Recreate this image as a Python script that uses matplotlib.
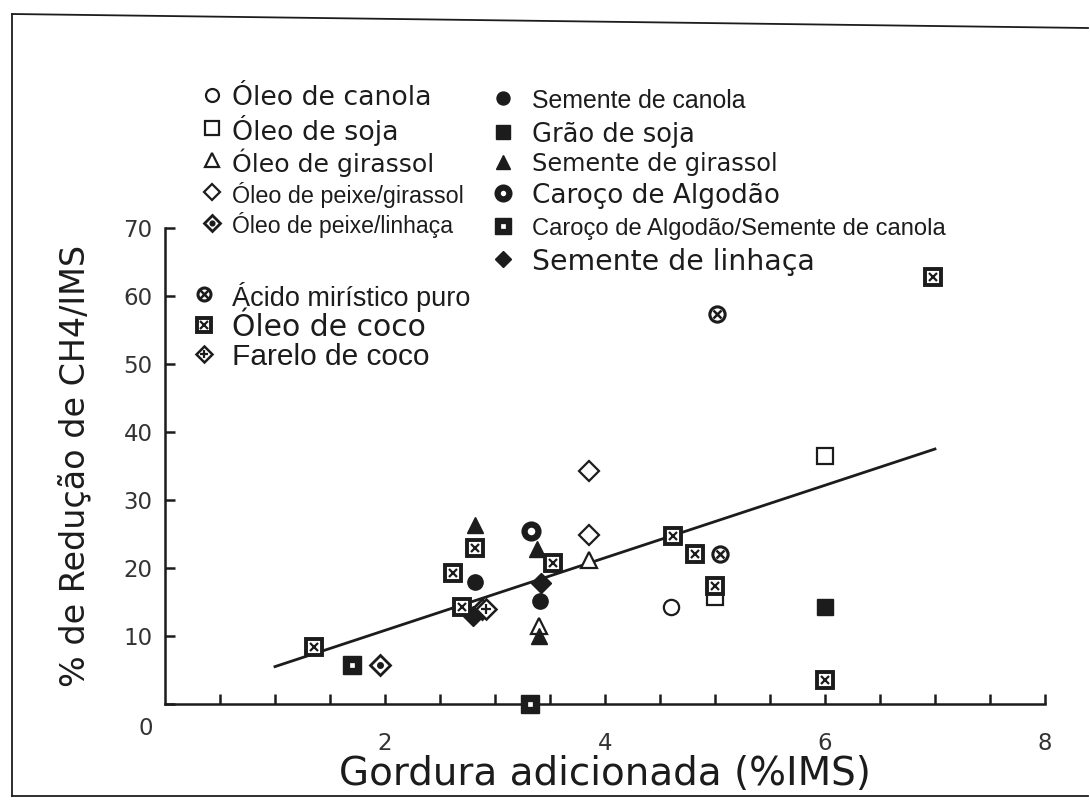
import matplotlib
matplotlib.use("Agg")
import matplotlib.pyplot as plt
from matplotlib.lines import Line2D
import matplotlib.transforms as mtransforms

plt.rcParams['font.family'] = ['Liberation Sans', 'DejaVu Sans']

INK = '#1c1c1c'
W, H = 1090, 802

# values
x_oleo_canola = [4.6]
y_oleo_canola = [14.2]
x_oleo_soja = [6.0, 5.0]
y_oleo_soja = [36.5, 15.8]
x_oleo_girassol = [3.85, 3.4]
y_oleo_girassol = [21.2, 11.5]
x_peixe_girassol = [3.85, 3.85]
y_peixe_girassol = [34.2, 24.8]
x_peixe_linhaca = [1.95, 2.88]
y_peixe_linhaca = [5.8, 14.0]
x_semente_canola = [2.82, 3.41]
y_semente_canola = [18.0, 15.2]
x_grao_soja = [6.0]
y_grao_soja = [14.2]
x_semente_girassol = [2.82, 3.38, 3.4]
y_semente_girassol = [26.3, 22.8, 10.0]
x_caroco = [3.33]
y_caroco = [25.4]
x_caroco_canola = [1.7, 3.32]
y_caroco_canola = [5.8, 0.0]
x_semente_linhaca = [2.8, 3.42]
y_semente_linhaca = [13.0, 17.8]
x_acido = [5.02, 5.05]
y_acido = [57.4, 22.0]
x_oleo_coco = [1.35, 2.62, 2.82, 2.7, 3.53, 4.62, 4.82, 5.0, 6.0, 6.98]
y_oleo_coco = [8.4, 19.2, 23.0, 14.2, 20.7, 24.7, 22.0, 17.4, 3.6, 62.8]
x_farelo_coco = [2.92]
y_farelo_coco = [14.0]

x_fit = [1.0, 7.0]
y_fit = [5.5, 37.5]

x_ticks = [2, 4, 6, 8]
y_ticks = [0, 10, 20, 30, 40, 50, 60, 70]


def open_(m, ms=11, mew=1.6):
    return dict(marker=m, ms=ms, mfc='white', mec=INK, mew=mew)


def full(m, ms=11):
    return dict(marker=m, ms=ms, mfc=INK, mec=INK, mew=1.0)


# (label, x, y, marker layers)
series = [
    ('Óleo de canola', x_oleo_canola, y_oleo_canola, [open_('o', 11)]),
    ('Óleo de soja', x_oleo_soja, y_oleo_soja, [open_('s', 12)]),
    ('Óleo de girassol', x_oleo_girassol, y_oleo_girassol, [open_('^', 12)]),
    ('Óleo de peixe/girassol', x_peixe_girassol, y_peixe_girassol, [open_('D', 10)]),
    ('Óleo de peixe/linhaça', x_peixe_linhaca, y_peixe_linhaca,
     [open_('D', 10, 2.0), full('o', 4)]),
    ('Semente de canola', x_semente_canola, y_semente_canola, [full('o', 11)]),
    ('Grão de soja', x_grao_soja, y_grao_soja, [full('s', 12)]),
    ('Semente de girassol', x_semente_girassol, y_semente_girassol, [full('^', 12)]),
    ('Caroço de Algodão', x_caroco, y_caroco, [open_('o', 10, 4.5)]),
    ('Caroço de Algodão/Semente de canola', x_caroco_canola, y_caroco_canola,
     [full('s', 13), dict(marker='s', ms=3, mfc='white', mec='white', mew=0.5)]),
    ('Semente de linhaça', x_semente_linhaca, y_semente_linhaca, [full('D', 10)]),
    ('Ácido mirístico puro', x_acido, y_acido,
     [open_('o', 11, 2.2), dict(marker='x', ms=6, mec=INK, mew=1.8)]),
    ('Óleo de coco', x_oleo_coco, y_oleo_coco,
     [open_('s', 12, 2.8), dict(marker='x', ms=6, mec=INK, mew=1.6)]),
    ('Farelo de coco', x_farelo_coco, y_farelo_coco,
     [open_('D', 10, 1.8), dict(marker='+', ms=7, mec=INK, mew=1.6)]),
]

# legend layout in pixels: marker x, text x, row centre y, font family, size
WIDE = 'DejaVu Sans'
NARROW = 'Liberation Sans'
legend_layout = {
    'Óleo de canola': (212, 232, 95, WIDE, 19.3),
    'Óleo de soja': (212, 232, 128, WIDE, 19.4),
    'Óleo de girassol': (212, 232, 160, WIDE, 18.1),
    'Óleo de peixe/girassol': (212, 232, 192, NARROW, 16.8),
    'Óleo de peixe/linhaça': (212, 232, 223, NARROW, 16.6),
    'Semente de canola': (503, 532, 98, NARROW, 17.9),
    'Grão de soja': (503, 532, 132, WIDE, 18.5),
    'Semente de girassol': (503, 532, 162, WIDE, 17.3),
    'Caroço de Algodão': (503, 532, 193, WIDE, 18.9),
    'Caroço de Algodão/Semente de canola': (503, 532, 226, NARROW, 17.1),
    'Semente de linhaça': (503, 532, 259, WIDE, 20.4),
    'Ácido mirístico puro': (204, 232, 294, NARROW, 19.5),
    'Óleo de coco': (204, 232, 325, WIDE, 21.5),
    'Farelo de coco': (204, 232, 354, NARROW, 21.5),
}

fig = plt.figure(figsize=(W / 100, H / 100), dpi=100)
ax = fig.add_axes([0.1514, 0.1222, 0.8073, 0.5935])

ax.plot(x_fit, y_fit, color=INK, lw=2.0, zorder=2)

for label, xs, ys, layers in series:
    for lay in layers:
        ax.plot(xs, ys, linestyle='none', clip_on=False, zorder=3, **lay)
    mx, tx, ty, fam, fs = legend_layout[label]
    for lay in layers:
        kw = dict(lay)
        kw['ms'] = kw['ms'] * 0.85
        fig.add_artist(Line2D([mx / W], [1 - ty / H], transform=fig.transFigure,
                              linestyle='none', **kw))
    fig.text(tx / W, 1 - ty / H, label, family=fam, fontsize=fs, color=INK,
             ha='left', va='center_baseline')

ax.set_xlim(0, 8)
ax.set_ylim(0, 70)
ax.set_xticks(x_ticks)
ax.set_xticks([i * 0.5 for i in range(1, 17)], minor=True)
ax.set_yticks(y_ticks)
for s in ['top', 'right']:
    ax.spines[s].set_visible(False)
for s in ['left', 'bottom']:
    ax.spines[s].set_linewidth(1.8)
    ax.spines[s].set_color(INK)
ax.tick_params(axis='both', which='both', direction='in', length=7, width=1.8,
               color=INK, labelsize=16.5, labelcolor='#333333')
ax.tick_params(axis='x', which='major', pad=20)
ax.tick_params(axis='y', pad=9)
for t in ax.get_xticklabels() + ax.get_yticklabels():
    t.set_family('DejaVu Sans')
# the zero label sits lower than its tick in the original
zero = ax.get_yticklabels()[0]
zero.set_transform(zero.get_transform() +
                   mtransforms.ScaledTranslation(0, -0.22, fig.dpi_scale_trans))

ax.set_xlabel('Gordura adicionada (%IMS)', fontsize=28, family='DejaVu Sans',
              color=INK, labelpad=0)
ax.set_ylabel('% de Redução de CH4/IMS', fontsize=24, family='DejaVu Sans',
              color=INK, labelpad=23)

# scanned page border
fig.add_artist(Line2D([12 / W, 1088 / W], [1 - 14 / H, 1 - 28 / H],
                      transform=fig.transFigure, color=INK, lw=1.3))
fig.add_artist(Line2D([12 / W, 12 / W], [1 - 14 / H, 1 - 796 / H],
                      transform=fig.transFigure, color=INK, lw=1.3))
fig.add_artist(Line2D([12 / W, 1088 / W], [1 - 796 / H, 1 - 796 / H],
                      transform=fig.transFigure, color=INK, lw=1.3))

fig.savefig('out.png', dpi=100)
